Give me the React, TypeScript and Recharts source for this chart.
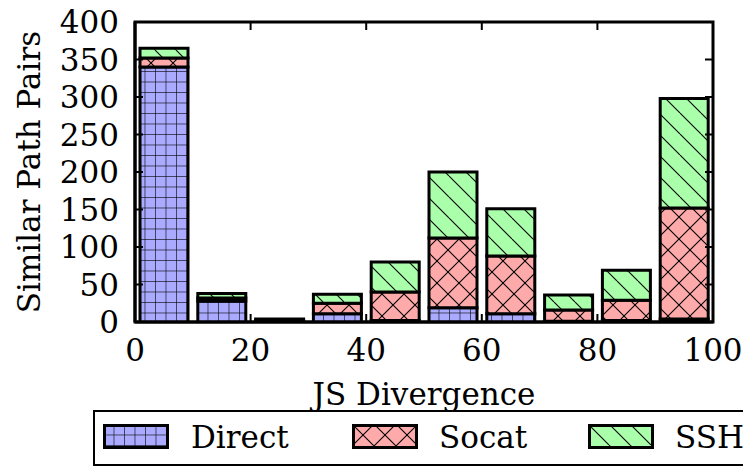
import React from 'react';
import { BarChart, Bar, XAxis, YAxis, ReferenceArea } from 'recharts';

const binCenters = [5, 15, 25, 35, 45, 55, 65, 75, 85, 95];
const directValues = [340, 28, 1, 11, 2, 19, 11, 1, 2, 4];
const socatValues = [12, 4, 1, 14, 38, 93, 77, 15, 27, 148];
const sshValues = [13, 6, 2, 12, 40, 88, 63, 20, 40, 146];
const xTicks = [0, 20, 40, 60, 80, 100];
const yTicks = [0, 50, 100, 150, 200, 250, 300, 350, 400];
const seriesNames = ['Direct', 'Socat', 'SSH'];

const data = binCenters.map((x, i) => ({
  x,
  Direct: directValues[i],
  Socat: socatValues[i],
  SSH: sshValues[i],
}));

const FONT = '"DejaVu Serif", serif';
const FS = 31;
const W = 743;
const H = 460;
const M = { top: 14, right: 38, bottom: 116, left: 67 };
const YW = 60;
const XH = 30;
const PL = M.left + YW;
const PW = W - PL - M.right;
const PH = H - M.top - M.bottom - XH;

const patternIds: Record<string, string> = { Direct: 'pDirect', Socat: 'pSocat', SSH: 'pSSH' };

const Patterns = () => (
  <svg width={0} height={0} style={{ position: 'absolute' }}>
    <defs>
      <pattern id="pDirect" patternUnits="userSpaceOnUse" width={10.5} height={10.5}>
        <rect width={10.5} height={10.5} fill="#aaaaff" />
        <line x1={0} y1={0} x2={10.5} y2={0} stroke="#000" strokeWidth={1.2} />
        <line x1={0} y1={0} x2={0} y2={10.5} stroke="#000" strokeWidth={1.2} />
      </pattern>
      <pattern id="pSocat" patternUnits="userSpaceOnUse" width={22} height={22}>
        <rect width={22} height={22} fill="#ffaaaa" />
        <line x1={0} y1={0} x2={22} y2={22} stroke="#000" strokeWidth={1.1} />
        <line x1={22} y1={0} x2={0} y2={22} stroke="#000" strokeWidth={1.1} />
      </pattern>
      <pattern id="pSSH" patternUnits="userSpaceOnUse" width={21} height={21}>
        <rect width={21} height={21} fill="#aaffaa" />
        <line x1={0} y1={0} x2={21} y2={21} stroke="#000" strokeWidth={1.1} />
        <line x1={-21} y1={0} x2={0} y2={21} stroke="#000" strokeWidth={1.1} />
        <line x1={21} y1={0} x2={42} y2={21} stroke="#000" strokeWidth={1.1} />
      </pattern>
    </defs>
  </svg>
);

const YTick = (props: any) => {
  const { y, payload } = props;
  const ax = PL;
  return (
    <g>
      <text x={ax - 16} y={y} textAnchor="end" dominantBaseline="central" fontFamily={FONT} fontSize={FS} fill="#000">
        {payload.value}
      </text>
      <line x1={ax} x2={ax + 8} y1={y} y2={y} stroke="#000" strokeWidth={2} />
      <line x1={ax + PW} x2={ax + PW - 8} y1={y} y2={y} stroke="#000" strokeWidth={2} />
    </g>
  );
};

const XTick = (props: any) => {
  const { x, payload } = props;
  const ay = M.top + PH;
  return (
    <g>
      <text x={x} y={ay + 28} textAnchor="middle" dominantBaseline="central" fontFamily={FONT} fontSize={FS} fill="#000">
        {payload.value}
      </text>
      <line x1={x} x2={x} y1={ay} y2={ay - 8} stroke="#000" strokeWidth={2} />
      <line x1={x} x2={x} y1={M.top} y2={M.top + 8} stroke="#000" strokeWidth={2} />
    </g>
  );
};

const LegendBox = () => {
  const patchX = [8, 257, 493];
  const textX = [96, 344, 580];
  return (
    <div
      style={{
        position: 'absolute',
        left: 85,
        top: 402,
        width: 680,
        height: 56,
        border: '2px solid #000',
        background: '#fff',
        boxSizing: 'border-box',
        fontFamily: FONT,
      }}
    >
      {seriesNames.map((n, i) => (
        <React.Fragment key={n}>
          <svg style={{ position: 'absolute', left: patchX[i], top: 12 }} width={66} height={25}>
            <rect x={1.5} y={1.5} width={63} height={22} fill={`url(#${patternIds[n]})`} stroke="#000" strokeWidth={3} />
          </svg>
          <span style={{ position: 'absolute', left: textX[i], top: 6, fontSize: FS, lineHeight: '38px', color: '#000', whiteSpace: 'nowrap' }}>
            {n}
          </span>
        </React.Fragment>
      ))}
    </div>
  );
};

export default function App() {
  return (
    <div style={{ position: 'relative', width: W, height: H, overflow: 'visible' }}>
      <Patterns />
      <BarChart width={W} height={H} data={data} margin={M}>
        <XAxis
          dataKey="x"
          type="number"
          domain={[0, 100]}
          ticks={xTicks}
          tick={<XTick />}
          tickLine={false}
          height={XH}
          axisLine={{ stroke: '#000', strokeWidth: 3 }}
          interval={0}
          allowDataOverflow
        />
        <YAxis
          type="number"
          domain={[0, 400]}
          ticks={yTicks}
          tick={<YTick />}
          tickLine={false}
          width={YW}
          interval={0}
          axisLine={{ stroke: '#000', strokeWidth: 3 }}
          allowDataOverflow
        />
        {seriesNames.map((n) => (
          <Bar
            key={n}
            dataKey={n}
            stackId="a"
            barSize={48}
            fill={`url(#${patternIds[n]})`}
            stroke="#000"
            strokeWidth={3}
            isAnimationActive={false}
          />
        ))}
        <ReferenceArea x1={0} x2={100} y1={0} y2={400} fill="none" stroke="#000" strokeWidth={3} ifOverflow="visible" />
      </BarChart>
      <svg width={W} height={H} style={{ position: 'absolute', left: 0, top: 0, pointerEvents: 'none' }}>
        <text
          x={PL + PW / 2}
          y={M.top + PH + 72}
          textAnchor="middle"
          dominantBaseline="central"
          fontFamily={FONT}
          fontSize={FS}
          fill="#000"
        >
          JS Divergence
        </text>
        <text
          transform={`translate(21, ${M.top + PH / 2}) rotate(-90)`}
          textAnchor="middle"
          dominantBaseline="central"
          fontFamily={FONT}
          fontSize={FS}
          fill="#000"
        >
          Similar Path Pairs
        </text>
      </svg>
      <LegendBox />
    </div>
  );
}
